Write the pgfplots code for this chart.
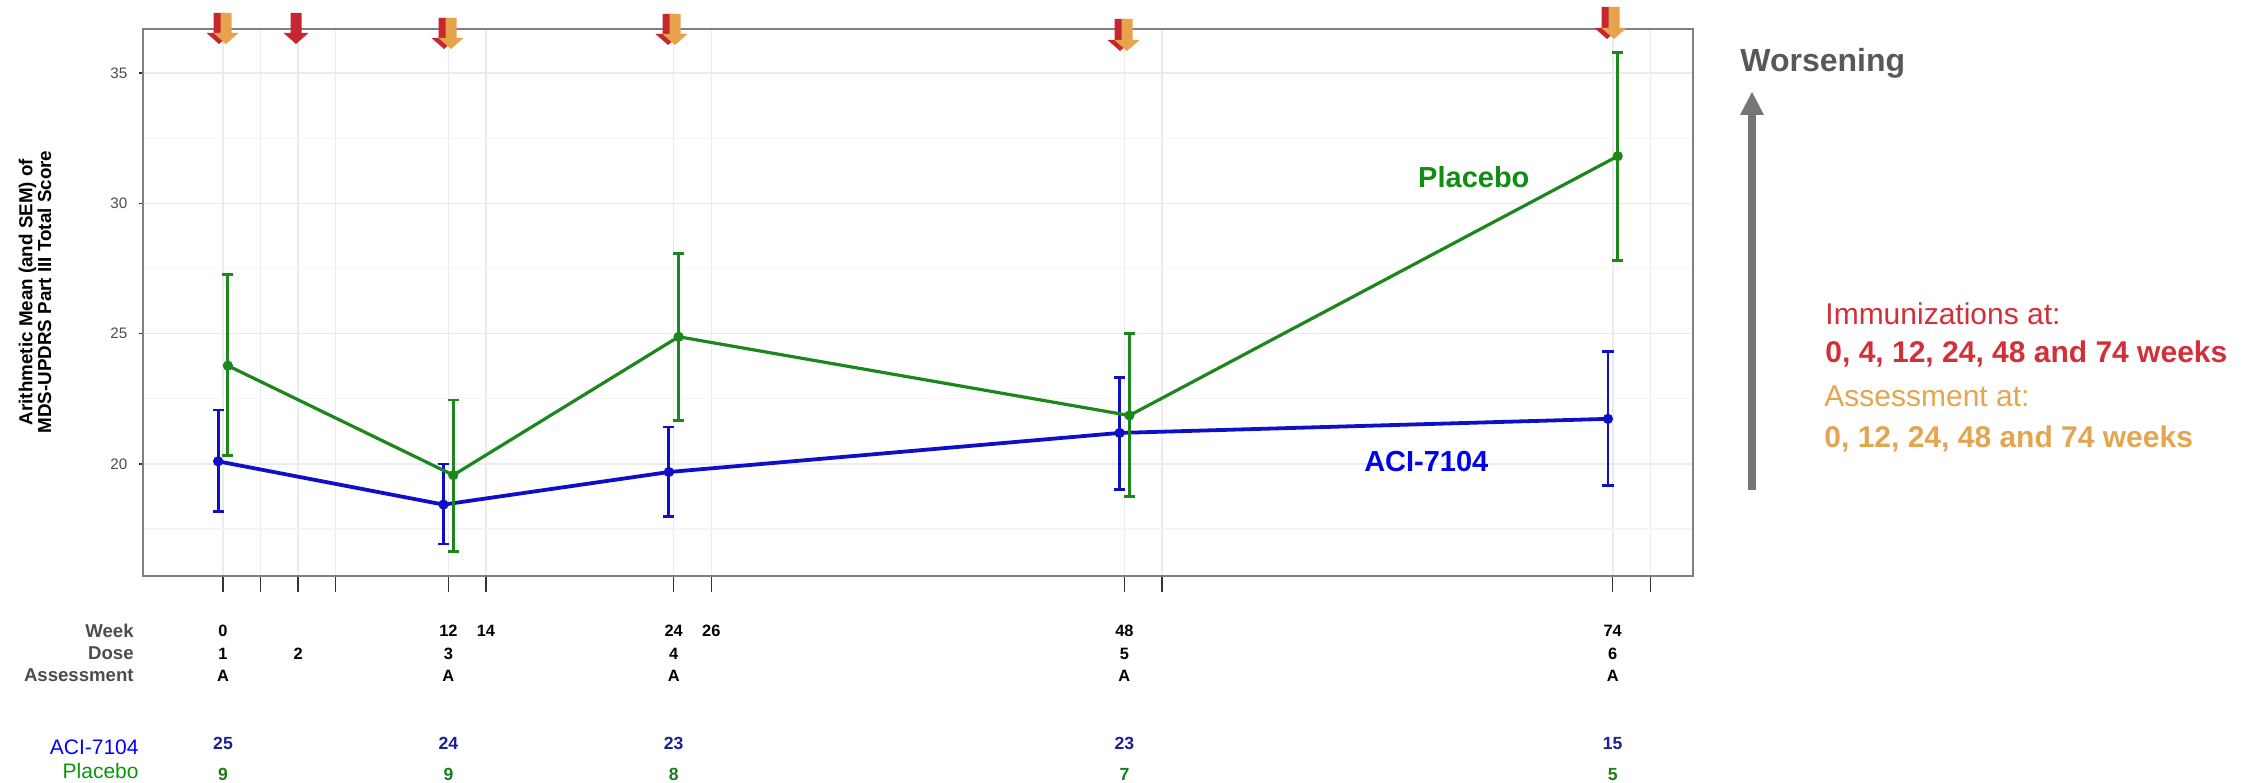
\documentclass[border=0pt]{standalone}
\usepackage{fontspec}
\setmainfont{Liberation Sans}
\usepackage{pgfplots}
\usepackage{pgfplotstable}
\pgfplotsset{compat=1.18}
\definecolor{cblue}{RGB}{15,15,200}
\definecolor{cgreen}{RGB}{28,135,28}
\definecolor{lblue}{RGB}{0,0,235}
\definecolor{lgreen}{RGB}{18,140,18}
\definecolor{bblue}{RGB}{0,0,255}
\definecolor{bgreen}{RGB}{10,150,10}
\definecolor{nblue}{RGB}{30,30,150}
\definecolor{ngreen}{RGB}{25,125,25}
\definecolor{ared}{RGB}{196,40,46}
\definecolor{aorange}{RGB}{230,163,75}
\definecolor{tred}{RGB}{210,48,56}
\definecolor{torange}{RGB}{228,165,80}
\definecolor{labgray}{RGB}{77,77,77}
\definecolor{wgray}{RGB}{88,88,88}
\definecolor{arrgray}{RGB}{118,118,118}
\definecolor{framegray}{RGB}{128,128,128}
\definecolor{tickgray}{RGB}{51,51,51}
\definecolor{grid1}{RGB}{235,235,235}
\definecolor{grid2}{RGB}{245,245,245}
\newcommand\fs[1]{\fontsize{#1}{#1}\selectfont}

\pgfplotstableread{
x      y      ep    em
-0.26  20.10  1.97  1.91
11.74  18.44  1.56  1.51
23.74  19.69  1.73  1.72
47.74  21.19  2.13  2.16
73.74  21.73  2.59  2.55
}\aci
\pgfplotstableread{
x      y      ep    em
0.26   23.77  3.50  3.46
12.26  19.57  2.88  2.92
24.26  24.88  3.21  3.21
48.26  21.86  3.13  3.12
74.26  31.81  3.98  4.00
}\plac

% down arrow: color, center x, top y, tip y (px coords)
\newcommand\DArr[4]{%
  \fill[#1] ({#2-5.5},#3) -- ({#2+5.5},#3) -- ({#2+5.5},{#4-11}) -- ({#2+12.5},{#4-11})
    -- (#2,#4) -- ({#2-12.5},{#4-11}) -- ({#2-5.5},{#4-11}) -- cycle;}

\begin{document}
\begin{tikzpicture}
\useasboundingbox (0,0) rectangle (1121.5pt,391pt);
\begin{axis}[
  at={(71.5pt,103pt)}, anchor=south west,
  scale only axis, width=775pt, height=273.5pt,
  xmin=-4.26, xmax=78.27, ymin=15.70, ymax=36.69,
  clip=false,
  axis line style={draw=framegray, line width=0.7pt},
  xtick={0,2,4,6,12,14,24,26,48,50,74,76},
  xticklabels={},
  xtick pos=left, ytick pos=left,
  tick align=outside,
  ytick={20,25,30,35},
  minor ytick={17.5,22.5,27.5,32.5},
  minor tick length=0pt,
  xtick style={draw=tickgray, line width=0.65pt, /pgfplots/major tick length=8pt},
  ytick style={draw=tickgray, line width=0.65pt, /pgfplots/major tick length=2.2pt},
  grid=both,
  major grid style={draw=grid1, line width=0.7pt},
  minor grid style={draw=grid2, line width=0.6pt},
  yticklabel style={font=\fs{7.6}, text=labgray},
  /pgf/number format/assume math mode=true,
]
\addplot[cblue, line width=1.9pt, mark=*, mark size=2.3pt,
  mark options={solid, fill=cblue, line width=0.5pt},
  error bars/.cd, y dir=both, y explicit,
  error bar style={line width=1.4pt, cblue},
  error mark options={rotate=90, line width=1.4pt, mark size=2.8pt, cblue}]
  table[x=x, y=y, y error plus=ep, y error minus=em]{\aci};
\addplot[cgreen, line width=1.6pt, mark=*, mark size=2.3pt,
  mark options={solid, fill=cgreen, line width=0.5pt},
  error bars/.cd, y dir=both, y explicit,
  error bar style={line width=1.4pt, cgreen},
  error mark options={rotate=90, line width=1.4pt, mark size=2.8pt, cgreen}]
  table[x=x, y=y, y error plus=ep, y error minus=em]{\plac};
\node[font=\bfseries\fs{14.5}, text=lgreen] at (axis cs:66.6,31.0) {Placebo};
\node[font=\bfseries\fs{14.5}, text=lblue] at (axis cs:64.07,20.1) {ACI-7104};
\end{axis}

\begin{scope}[x=0.5pt, y=-0.5pt, yshift=391pt]
  % y-axis title
  \node[rotate=90, align=center, font=\bfseries\fs{9.4}, text=black,
        inner sep=0pt] at (35,292)
    {\fontsize{9.4}{10.2}\selectfont Arithmetic Mean (and SEM) of\\MDS-UPDRS Part III Total Score};
  % top arrows
  \DArr{ared}{219}{13}{44}\DArr{aorange}{226}{13}{44}
  \DArr{ared}{296}{13}{44}
  \DArr{ared}{444}{18}{49}\DArr{aorange}{451}{18}{49}
  \DArr{ared}{668}{14}{45}\DArr{aorange}{675}{14}{45}
  \DArr{ared}{1120}{19}{51}\DArr{aorange}{1127}{19}{51}
  \DArr{ared}{1607}{7}{39}\DArr{aorange}{1614}{7}{39}
  % bottom table labels
  \begin{scope}[every node/.style={inner sep=0pt}]
  \node[anchor=base east, font=\bfseries\fs{9.3}, text=labgray] at (134,638) {Week};
  \node[anchor=base east, font=\bfseries\fs{9.3}, text=labgray] at (134,660) {Dose};
  \node[anchor=base east, font=\bfseries\fs{9.3}, text=labgray] at (134,682) {Assessment};
  \node[anchor=base east, font=\fs{10.5}, text=bblue] at (139,754) {ACI-7104};
  \node[anchor=base east, font=\fs{10.5}, text=bgreen] at (139,778) {Placebo};
  % week row
  \foreach \xx/\tt in {223/0, 448.4/12, 485.9/14, 673.7/24, 711.3/26, 1124.4/48, 1612.7/74}
    \node[anchor=base, font=\bfseries\fs{8.2}] at (\xx,637) {\tt};
  % dose row
  \foreach \xx/\tt in {223/1, 298.1/2, 448.4/3, 673.7/4, 1124.4/5, 1612.7/6}
    \node[anchor=base, font=\bfseries\fs{8.2}] at (\xx,659) {\tt};
  % assessment row
  \foreach \xx in {223, 448.4, 673.7, 1124.4, 1612.7}
    \node[anchor=base, font=\bfseries\fs{8.2}] at (\xx,681) {A};
  % N rows
  \foreach \xx/\tt in {223/25, 448.4/24, 673.7/23, 1124.4/23, 1612.7/15}
    \node[anchor=base, font=\bfseries\fs{8.8}, text=nblue] at (\xx,749) {\tt};
  \foreach \xx/\tt in {223/9, 448.4/9, 673.7/8, 1124.4/7, 1612.7/5}
    \node[anchor=base, font=\bfseries\fs{8.8}, text=ngreen] at (\xx,780) {\tt};
  % right annotations
  \node[anchor=base west, font=\bfseries\fs{16}, text=wgray] at (1740,72) {Worsening};
  \node[anchor=base west, font=\fs{15}, text=tred] at (1825,325) {Immunizations at:};
  \node[anchor=base west, font=\bfseries\fs{15}, text=tred] at (1825,363) {0, 4, 12, 24, 48 and 74 weeks};
  \node[anchor=base west, font=\fs{15}, text=torange] at (1824,407) {Assessment at:};
  \node[anchor=base west, font=\bfseries\fs{15}, text=torange] at (1824,448) {0, 12, 24, 48 and 74 weeks};
  \end{scope}
  % worsening arrow
  \draw[arrgray, line width=4.2pt] (1752,490) -- (1752,112);
  \fill[arrgray] (1740,115) -- (1764,115) -- (1752,92) -- cycle;
\end{scope}
\end{tikzpicture}
\end{document}
